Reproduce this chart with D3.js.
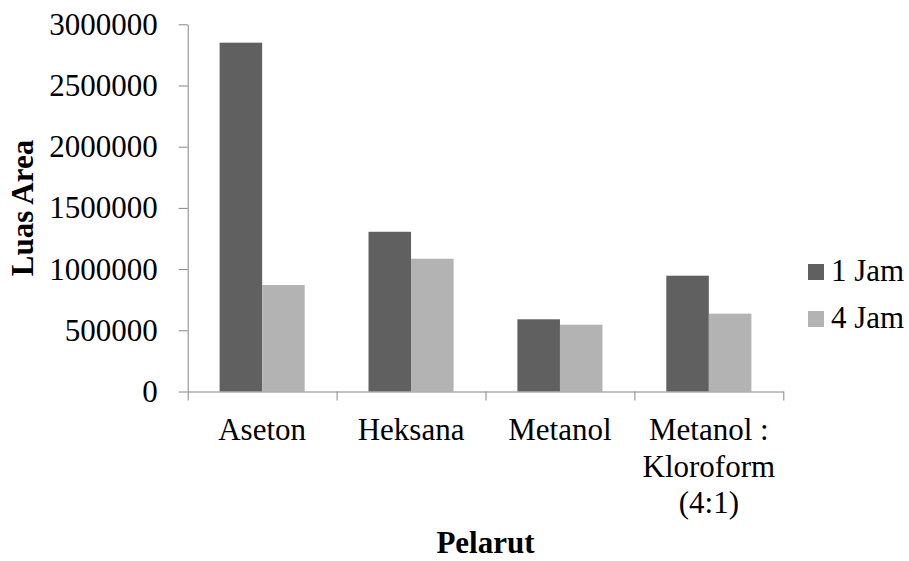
<!DOCTYPE html>
<html>
<head>
<meta charset="utf-8">
<script src="https://cdn.jsdelivr.net/npm/d3@7"></script>
<style>
  html, body { margin: 0; padding: 0; background: #fff; }
  svg { display: block; }
  text { font-family: "Liberation Serif", "Times New Roman", serif; fill: #000; }
</style>
</head>
<body>
<script>
const categories = ["Aseton", "Heksana", "Metanol", "Metanol : Kloroform (4:1)"];
const categoryLines = [["Aseton"], ["Heksana"], ["Metanol"], ["Metanol :", "Kloroform", "(4:1)"]];
const seriesNames = ["1 Jam", "4 Jam"];
const jam1 = [2850000, 1305000, 590000, 946000];
const jam4 = [870000, 1085000, 546000, 636000];
const yTicks = [0, 500000, 1000000, 1500000, 2000000, 2500000, 3000000];
const colors = ["#606060", "#b3b3b3"];

(function () {
const W = 909, H = 561;
const pLeft = 187.7, pRight = 783.3, pTop = 24.3, pBottom = 391.5;
const FONT = "'Liberation Serif', 'Times New Roman', serif";

const svg = d3.select("body").append("svg").attr("width", W).attr("height", H);

const y = d3.scaleLinear().domain([0, 3000000]).range([pBottom, pTop]);
const x0 = d3.scaleBand().domain(categories).range([pLeft, pRight]).padding(0);
const x1 = d3.scaleBand().domain(seriesNames).range([0, x0.bandwidth()]).paddingInner(0).paddingOuter(0.75);
const xb = d3.scaleLinear().domain([0, categories.length]).range([pLeft, pRight]);

const data = categories.map((c, i) => ({ cat: c, vals: [jam1[i], jam4[i]] }));

// bars
const g = svg.append("g");
data.forEach(d => {
  d.vals.forEach((v, j) => {
    g.append("rect")
      .attr("x", x0(d.cat) + x1(seriesNames[j]))
      .attr("y", y(v))
      .attr("width", x1.bandwidth())
      .attr("height", y(0) - y(v))
      .attr("fill", colors[j]);
  });
});

// y axis
const yAxis = svg.append("g").attr("transform", `translate(${pLeft},0)`)
  .call(d3.axisLeft(y).tickValues(yTicks).tickFormat(d3.format("d")).tickSize(9).tickSizeOuter(0).tickPadding(21));
yAxis.attr("font-family", null).attr("font-size", null);
yAxis.selectAll("path, line").attr("stroke", "#868686").attr("stroke-width", 1);
yAxis.selectAll("text").style("font-size", "31px").style("font-family", FONT).attr("fill", "#000");

// x axis
const xAxis = svg.append("g").attr("transform", `translate(0,${pBottom})`)
  .call(d3.axisBottom(xb).tickValues(d3.range(categories.length + 1)).tickSize(9).tickSizeOuter(0).tickFormat(""));
xAxis.selectAll("path, line").attr("stroke", "#868686").attr("stroke-width", 1);

// category labels
categories.forEach((c, i) => {
  const cx = x0(c) + x0.bandwidth() / 2;
  const t = svg.append("text")
    .attr("x", cx)
    .attr("y", 440)
    .attr("text-anchor", "middle")
    .style("font-family", FONT)
    .style("font-size", "31px");
  categoryLines[i].forEach((ln, k) => {
    t.append("tspan").attr("x", cx).attr("dy", k === 0 ? 0 : 36.5).text(ln);
  });
});

// axis titles
svg.append("text")
  .attr("transform", `translate(33,208) rotate(-90)`)
  .attr("text-anchor", "middle")
  .style("font-family", FONT)
  .style("font-size", "31px").style("font-weight", "bold")
  .text("Luas Area");

svg.append("text")
  .attr("x", (pLeft + pRight) / 2)
  .attr("y", 553)
  .attr("text-anchor", "middle")
  .style("font-family", FONT)
  .style("font-size", "31px").style("font-weight", "bold")
  .text("Pelarut");

// legend
const legendY = [264, 311];
seriesNames.forEach((s, i) => {
  svg.append("rect").attr("x", 808).attr("y", legendY[i]).attr("width", 16).attr("height", 16).attr("fill", colors[i]);
  svg.append("text").attr("x", 831).attr("y", legendY[i] + 17)
    .style("font-family", FONT).style("font-size", "31px").text(s);
});
})();
</script>
</body>
</html>
